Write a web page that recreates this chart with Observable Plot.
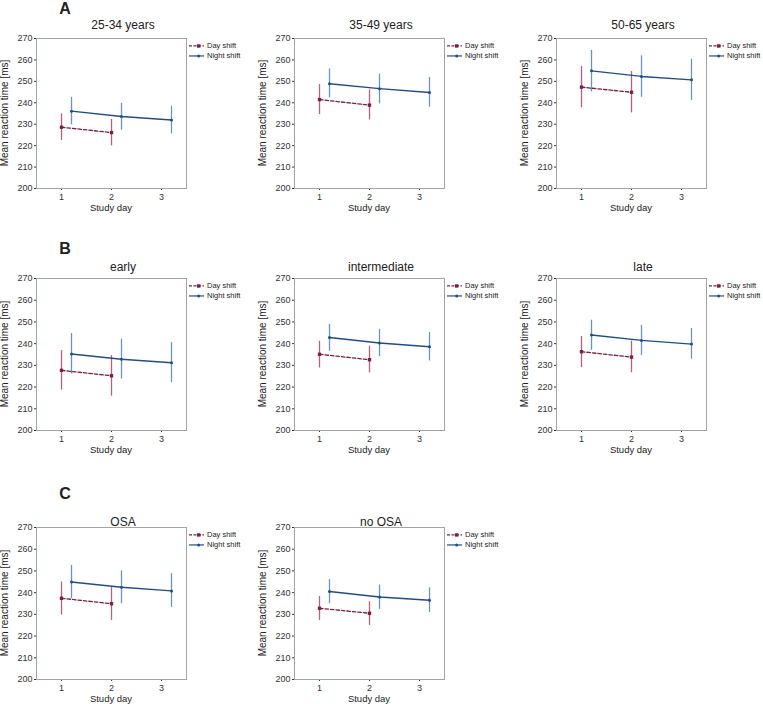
<!DOCTYPE html>
<html>
<head>
<meta charset="utf-8">
<script src="https://cdn.jsdelivr.net/npm/d3@7"></script>
<script src="https://cdn.jsdelivr.net/npm/@observablehq/plot@0.6"></script>
<style>
  body { margin: 0; background: #fff; }
  #root { position: relative; width: 763px; height: 704px; background: #fff; font-family: "Liberation Sans", Arial, sans-serif; color: #222; overflow: hidden; }
  .abs { position: absolute; white-space: nowrap; line-height: 1; }
  .ylab { font-size: 10px; transform: translate(-50%, -50%) rotate(-90deg); }
  .xlab { font-size: 9.5px; transform: translate(-50%, -50%); }
  .title { font-size: 12px; transform: translate(-50%, -50%); }
  .letter { font-size: 16px; font-weight: bold; transform: translate(-50%, -50%); }
  .leg { font-size: 7.5px; display: flex; align-items: center; transform: translateY(-50%); }
  .leg svg { margin-right: 3px; }
</style>
</head>
<body>
<div id="root"></div>
<script>
// ---- data ----
const panelTitles = ["25-34 years", "35-49 years", "50-65 years", "early", "intermediate", "late", "OSA", "no OSA"];
const sectionLetters = ["A", "B", "C"];
const seriesNames = ["Day shift", "Night shift"];
const dayX = [1, 2];
const nightX = [1.2, 2.2, 3.2];
const xTicks = [1, 2, 3];
const yTicks = [200, 210, 220, 230, 240, 250, 260, 270];
const yLabel = "Mean reaction time [ms]";
const xLabel = "Study day";

const dayMean = [[228.6, 226.1], [241.5, 238.9], [247.3, 244.9], [227.7, 225.2], [235.1, 232.6], [236.3, 233.8], [237.4, 234.9], [232.8, 230.5]];
const dayLo   = [[222.4, 219.9], [234.5, 232.0], [237.6, 235.3], [218.6, 215.8], [228.8, 226.5], [228.9, 226.6], [229.7, 227.2], [227.2, 224.9]];
const dayHi   = [[234.8, 232.2], [248.5, 246.0], [256.9, 254.6], [236.8, 234.5], [241.1, 238.8], [243.3, 241.2], [244.9, 242.3], [238.2, 235.8]];
const nightMean = [[236.1, 233.6, 232.0], [248.9, 246.6, 244.8], [254.9, 252.3, 250.7], [235.2, 232.8, 231.2], [242.8, 240.3, 238.6], [244.0, 241.5, 239.8], [244.9, 242.5, 240.8], [240.5, 238.0, 236.5]];
const nightLo   = [[229.7, 227.2, 225.5], [242.3, 239.5, 238.0], [245.1, 242.6, 241.1], [226.0, 223.7, 222.0], [236.5, 234.0, 232.0], [236.9, 234.5, 232.8], [237.2, 234.9, 233.2], [234.9, 232.3, 230.8]];
const nightHi   = [[242.5, 239.8, 238.4], [255.8, 253.4, 251.8], [264.4, 261.9, 260.3], [244.6, 242.0, 240.5], [248.9, 246.6, 245.1], [250.8, 248.4, 247.0], [252.6, 250.0, 248.8], [246.0, 243.5, 242.2]];

// ---- styling / layout ----
const dayLine = "#7d1d48", dayBar = "#b3627f";
const nightLine = "#1f4e85", nightBar = "#6895c4";
const frameLefts = [36, 294, 556];
const frameTops = [38, 278, 527];
const frameHeights = [150, 152, 152];
const titleOffsets = [13, 11, 5];
const letterPos = [[65, 9], [65, 249], [65, 494]];
const FW = 150;
const mL = 40, mR = 8, mT = 30, mB = 36;

const root = document.getElementById("root");
function addDiv(cls, text, x, y) {
  const d = document.createElement("div");
  d.className = "abs " + cls;
  d.textContent = text;
  d.style.left = x + "px";
  d.style.top = y + "px";
  root.appendChild(d);
  return d;
}

sectionLetters.forEach((L, i) => addDiv("letter", L, letterPos[i][0], letterPos[i][1]));

panelTitles.forEach((title, p) => {
  const row = Math.floor(p / 3), col = p % 3;
  const fl = frameLefts[col], ft = frameTops[row], fh = frameHeights[row];
  const day = dayX.map((x, i) => ({x, m: dayMean[p][i], lo: dayLo[p][i], hi: dayHi[p][i]}));
  const night = nightX.map((x, i) => ({x, m: nightMean[p][i], lo: nightLo[p][i], hi: nightHi[p][i]}));

  const chart = Plot.plot({
    width: mL + FW + mR,
    height: mT + fh + mB,
    marginLeft: mL, marginRight: mR, marginTop: mT, marginBottom: mB,
    style: {fontFamily: "'Liberation Sans', Arial, sans-serif", fontSize: "9px", color: "#333", background: "transparent", overflow: "visible"},
    x: {domain: [0.5, 3.5], ticks: xTicks, tickFormat: "d", label: null, tickSize: 2, tickPadding: 3},
    y: {domain: [200, 270], ticks: yTicks, label: null, tickSize: 2, tickPadding: 2},
    marks: [
      Plot.ruleX(day, {x: "x", y1: "lo", y2: "hi", stroke: dayBar, strokeWidth: 1.3}),
      Plot.ruleX(night, {x: "x", y1: "lo", y2: "hi", stroke: nightBar, strokeWidth: 1.3}),
      Plot.line(day, {x: "x", y: "m", stroke: dayLine, strokeWidth: 1.3, strokeDasharray: "3.5,2"}),
      Plot.line(night, {x: "x", y: "m", stroke: nightLine, strokeWidth: 1.4}),
      Plot.dot(day, {x: "x", y: "m", symbol: "square", r: 1.9, fill: dayLine}),
      Plot.dot(night, {x: "x", y: "m", r: 1.5, fill: nightLine}),
      Plot.frame({stroke: "#a3a3a3", strokeWidth: 1})
    ]
  });
  chart.style.position = "absolute";
  chart.style.left = (fl - mL) + "px";
  chart.style.top = (ft - mT) + "px";
  root.appendChild(chart);

  addDiv("title", title, fl + 87, ft - titleOffsets[row]);
  addDiv("ylab", yLabel, fl - 31, ft + fh / 2);
  addDiv("xlab", xLabel, fl + FW / 2, ft + fh + 20);

  // legend
  const legendItems = [
    {name: seriesNames[0], color: dayLine, dash: "3,1.5", sq: true},
    {name: seriesNames[1], color: nightLine, dash: null, sq: false}
  ];
  legendItems.forEach((it, k) => {
    const d = document.createElement("div");
    d.className = "abs leg";
    d.style.left = (fl + FW + 3) + "px";
    d.style.top = (ft + 8 + k * 9.5) + "px";
    const mk = it.sq
      ? `<rect x="8" y="2" width="3.4" height="3.4" fill="${it.color}"/>`
      : `<circle cx="9.7" cy="3.7" r="1.5" fill="${it.color}"/>`;
    d.innerHTML = `<svg width="15" height="7" style="overflow:visible"><line x1="0" x2="15" y1="3.7" y2="3.7" stroke="${it.color}" stroke-width="1.2" ${it.dash ? `stroke-dasharray="${it.dash}"` : ""}/>${mk}</svg><span>${it.name}</span>`;
    root.appendChild(d);
  });
});
</script>
</body>
</html>
